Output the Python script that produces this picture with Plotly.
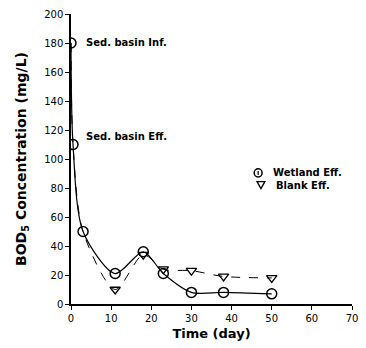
import plotly.graph_objects as go

wet_x = [0, 0.5, 3, 11, 18, 23, 30, 38, 50]
wet_y = [180, 110, 50, 21, 36, 21, 8, 8, 7]
blank_x = [0, 0.5, 3, 11, 18, 23, 30, 38, 50]
blank_y = [180, 110, 50, 10, 34, 24, 23, 19, 18]
blank_marker_x = [11, 18, 23, 30, 38, 50]
blank_marker_y = [10, 34, 24, 23, 19, 18]

font = dict(family="DejaVu Sans", size=10, color="black")

fig = go.Figure()
fig.add_trace(go.Scatter(x=blank_x, y=blank_y, mode="lines",
                         line=dict(color="black", width=1, dash="dash", shape="spline", smoothing=0.8),
                         showlegend=False, hoverinfo="skip"))
fig.add_trace(go.Scatter(x=blank_marker_x, y=blank_marker_y, mode="markers",
                         marker=dict(symbol="triangle-down-open", size=9, color="black", line=dict(width=1.3)),
                         showlegend=False))
fig.add_trace(go.Scatter(x=wet_x, y=wet_y, mode="lines+markers",
                         line=dict(color="black", width=1.2, shape="spline", smoothing=0.8),
                         marker=dict(symbol="circle-open", size=10, color="black", line=dict(width=1.5)),
                         showlegend=False))

fig.add_annotation(x=0.045, y=0.9, xref="paper", yref="paper", xanchor="left", yanchor="middle",
                   text="<b>Sed. basin Inf.</b>", showarrow=False, font=font)
fig.add_annotation(x=0.045, y=0.576, xref="paper", yref="paper", xanchor="left", yanchor="middle",
                   text="<b>Sed. basin Eff.</b>", showarrow=False, font=font)
fig.add_annotation(x=0.711, y=0.452, xref="paper", yref="paper", xanchor="left", yanchor="middle",
                   text="<b>Wetland Eff.</b>", showarrow=False, font=font)
fig.add_annotation(x=0.721, y=0.41, xref="paper", yref="paper", xanchor="left", yanchor="middle",
                   text="<b>Blank Eff.</b>", showarrow=False, font=font)
fig.add_shape(type="circle", xref="paper", yref="paper", x0=0.652, x1=0.680, y0=0.438, y1=0.466,
              line=dict(color="black", width=1.5))
fig.add_shape(type="line", xref="paper", yref="paper", x0=0.666, x1=0.666, y0=0.445, y1=0.459,
              line=dict(color="black", width=1.2))
fig.add_shape(type="path", xref="paper", yref="paper",
              path="M 0.662,0.422 L 0.690,0.422 L 0.676,0.398 Z",
              line=dict(color="black", width=1.3))

fig.update_layout(
    width=366, height=348,
    margin=dict(l=71, r=8, t=14, b=44),
    paper_bgcolor="white", plot_bgcolor="white",
    font=font,
    xaxis=dict(range=[0, 70], tickvals=[0, 10, 20, 30, 40, 50, 60, 70], showgrid=False, zeroline=False,
               showline=True, linecolor="black", linewidth=1.5, ticks="outside", ticklen=4,
               tickcolor="black", tickfont=dict(family="DejaVu Sans", size=10),
               title=dict(text="<b>Time (day)</b>", font=dict(size=13), standoff=6)),
    yaxis=dict(range=[0, 200], tickvals=list(range(0, 201, 20)), showgrid=False, zeroline=False,
               showline=True, linecolor="black", linewidth=1.5, ticks="outside", ticklen=4,
               tickcolor="black", tickfont=dict(family="DejaVu Sans", size=10),
               title=dict(text="<b>BOD<sub>5</sub> Concentration (mg/L)</b>", font=dict(size=14), standoff=14)),
)

fig.write_html("out.html")
